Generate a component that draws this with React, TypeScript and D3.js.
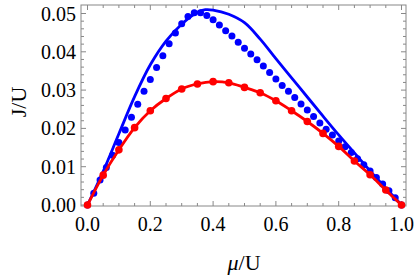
import React from "react";
import * as d3 from "d3";

// blue dots (numerical), step 0.02
const blueDotMu = [0, 0.02, 0.04, 0.06, 0.08, 0.1, 0.12, 0.14, 0.16, 0.18, 0.2, 0.22, 0.24, 0.26, 0.28, 0.3, 0.32, 0.34, 0.36, 0.38, 0.4, 0.42, 0.44, 0.46, 0.48, 0.5, 0.52, 0.54, 0.56, 0.58, 0.6, 0.62, 0.64, 0.66, 0.68, 0.7, 0.72, 0.74, 0.76, 0.78, 0.8, 0.82, 0.84, 0.86, 0.88, 0.9, 0.92, 0.94, 0.96, 0.98, 1.0];
const blueDotJ = [0, 0.0031, 0.0065, 0.0098, 0.013, 0.0163, 0.0196, 0.0229, 0.0263, 0.0297, 0.0328, 0.0359, 0.039, 0.0421, 0.0449, 0.0473, 0.0492, 0.0502, 0.0502, 0.0495, 0.0484, 0.047, 0.0455, 0.0441, 0.0425, 0.0409, 0.0394, 0.0379, 0.0363, 0.0346, 0.0329, 0.0312, 0.0297, 0.0281, 0.0264, 0.0248, 0.0231, 0.0214, 0.0198, 0.0183, 0.0167, 0.0152, 0.0137, 0.0121, 0.0105, 0.0089, 0.0072, 0.0055, 0.0037, 0.0019, 0];

// blue solid curve
const blueLineMu = [0, 0.05, 0.1, 0.15, 0.2, 0.25, 0.3, 0.35, 0.375, 0.4, 0.45, 0.5, 0.55, 0.6, 0.65, 0.7, 0.75, 0.8, 0.85, 0.9, 0.95, 1.0];
const blueLineJ = [0, 0.0088, 0.0186, 0.0283, 0.0366, 0.0428, 0.0472, 0.0503, 0.051, 0.0509, 0.0498, 0.0476, 0.0433, 0.0382, 0.0332, 0.0282, 0.0232, 0.0183, 0.0136, 0.0089, 0.0044, 0];

// red dots + line, step 0.05
const redMu = [0, 0.05, 0.1, 0.15, 0.2, 0.25, 0.3, 0.35, 0.4, 0.45, 0.5, 0.55, 0.6, 0.65, 0.7, 0.75, 0.8, 0.85, 0.9, 0.95, 1.0];
const redJ = [0, 0.0078, 0.0144, 0.0202, 0.0246, 0.0278, 0.0303, 0.0316, 0.0322, 0.0319, 0.0307, 0.0293, 0.0272, 0.0246, 0.0218, 0.0187, 0.0153, 0.0115, 0.0079, 0.0039, 0];

const xMajor = [0, 0.2, 0.4, 0.6, 0.8, 1.0];
const xLabels = ["0.0", "0.2", "0.4", "0.6", "0.8", "1.0"];
const yMajor = [0, 0.01, 0.02, 0.03, 0.04, 0.05];
const yLabels = ["0.00", "0.01", "0.02", "0.03", "0.04", "0.05"];

const W = 415, H = 278;
const frame = { left: 81, right: 406, top: 5, bottom: 206 };
const serif = { fontFamily: "Liberation Serif, DejaVu Serif, serif" };

export default function App() {
  const x = d3.scaleLinear().domain([0, 1]).range([87.5, 401.5]);
  const y = d3.scaleLinear().domain([0, 0.05]).range([205, 13.5]);

  const line = d3.line<[number, number]>()
    .x((d) => x(d[0]))
    .y((d) => y(d[1]))
    .curve(d3.curveCatmullRom);

  const blueLine = blueLineMu.map((m, i) => [m, blueLineJ[i]] as [number, number]);
  const redLine = redMu.map((m, i) => [m, redJ[i]] as [number, number]);

  const xMinor = x.ticks(20);
  const yMinor = y.ticks(25);
  const grey = "#888";

  return (
    <svg width={W} height={H} style={{ position: "absolute", left: 0, top: 0 }}>
      <rect x={0} y={0} width={W} height={H} fill="white" />
      {/* ticks, on all four sides like Mathematica's frame */}
      <g stroke={grey} strokeWidth={1}>
        {xMinor.map((t) => {
          const major = xMajor.some((m) => Math.abs(m - t) < 1e-9);
          const len = major ? 5 : 3;
          return (
            <g key={"x" + t}>
              <line x1={x(t)} x2={x(t)} y1={frame.bottom} y2={frame.bottom - len} />
              <line x1={x(t)} x2={x(t)} y1={frame.top} y2={frame.top + len} />
            </g>
          );
        })}
        {yMinor.map((t) => {
          const major = yMajor.some((m) => Math.abs(m - t) < 1e-9);
          const len = major ? 5 : 3;
          return (
            <g key={"y" + t}>
              <line x1={frame.left} x2={frame.left + len} y1={y(t)} y2={y(t)} />
              <line x1={frame.right} x2={frame.right - len} y1={y(t)} y2={y(t)} />
            </g>
          );
        })}
      </g>
      <rect x={frame.left} y={frame.top} width={frame.right - frame.left} height={frame.bottom - frame.top}
        fill="none" stroke={grey} strokeWidth={1} />

      {/* tick labels */}
      {xMajor.map((t, i) => (
        <text key={"xl" + t} x={x(t)} y={231} textAnchor="middle" fontSize={20} style={serif}>{xLabels[i]}</text>
      ))}
      {yMajor.map((t, i) => (
        <text key={"yl" + t} x={76} y={y(t) + 7} textAnchor="end" fontSize={20} style={serif}>{yLabels[i]}</text>
      ))}

      {/* axis titles */}
      <text x={244} y={270} fontSize={22} textAnchor="middle" style={serif}>
        <tspan fontStyle="italic">μ</tspan>/U
      </text>
      <text transform="translate(26,102) rotate(-90)" fontSize={22} textAnchor="middle" style={serif}>J/U</text>

      {/* blue */}
      <path d={line(blueLine) ?? ""} fill="none" stroke="#0000ff" strokeWidth={2.8} />
      {blueDotMu.map((m, i) => (
        <circle key={"b" + i} cx={x(m)} cy={y(blueDotJ[i])} r={3.5} fill="#0000ff" />
      ))}

      {/* red */}
      <path d={line(redLine) ?? ""} fill="none" stroke="#ff0000" strokeWidth={2.8} />
      {redMu.map((m, i) => (
        <circle key={"r" + i} cx={x(m)} cy={y(redJ[i])} r={3.8} fill="#ff0000" />
      ))}
    </svg>
  );
}
